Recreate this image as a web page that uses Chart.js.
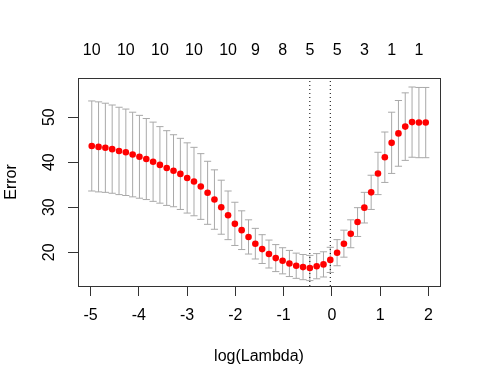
<!DOCTYPE html>
<html>
<head>
<meta charset="utf-8">
<script src="https://cdn.jsdelivr.net/npm/chart.js@4"></script>
<style>
  html, body { margin: 0; padding: 0; background: #fff; }
  canvas { display: block; }
</style>
</head>
<body>
<canvas id="cvPlot" width="480" height="384"></canvas>
<script>
// cross-validation curve (glmnet style)
const logLambda = [-4.975, -4.834, -4.693, -4.552, -4.410, -4.269, -4.128, -3.987, -3.845, -3.704,
  -3.563, -3.422, -3.281, -3.139, -2.998, -2.857, -2.716, -2.575, -2.433, -2.292,
  -2.151, -2.010, -1.869, -1.727, -1.586, -1.445, -1.304, -1.163, -1.021, -0.880,
  -0.739, -0.598, -0.457, -0.315, -0.174, -0.033, 0.108, 0.249, 0.391, 0.532,
  0.673, 0.814, 0.955, 1.097, 1.238, 1.379, 1.520, 1.661, 1.803, 1.944];
const cvMean = [43.6, 43.4, 43.2, 42.9, 42.5, 42.2, 41.7, 41.2, 40.7, 40.1,
  39.4, 38.7, 38.1, 37.4, 36.5, 35.7, 34.6, 33.2, 31.7, 30.0,
  28.2, 26.3, 24.9, 23.4, 21.9, 20.7, 19.6, 18.7, 18.1, 17.5,
  17.0, 16.7, 16.5, 16.9, 17.3, 18.3, 19.9, 21.9, 24.1, 26.7,
  29.9, 33.3, 37.5, 41.1, 44.3, 46.4, 47.9, 48.9, 48.8, 48.8];
const cvSd = [10.0, 10.0, 9.9, 9.8, 9.7, 9.6, 9.4, 9.2, 9.0, 8.8,
  8.5, 8.3, 8.0, 7.9, 7.8, 7.6, 7.3, 7.0, 6.6, 6.0,
  5.4, 4.8, 4.3, 3.8, 3.4, 3.2, 3.1, 3.0, 2.9, 2.9,
  2.8, 2.8, 2.8, 2.8, 2.8, 2.8, 2.9, 3.0, 3.1, 3.2,
  3.4, 3.8, 4.7, 5.6, 6.8, 7.3, 7.5, 7.8, 7.8, 7.8];

// number of nonzero coefs shown on top (R drops overlapping labels)
const nzAt = [0, 5, 10, 15, 20, 24, 28, 32, 36, 40, 44, 48];
const nzCount = [10, 10, 10, 10, 10, 9, 8, 5, 5, 3, 1, 1];

const xTicks = [-5, -4, -3, -2, -1, 0, 1, 2];
const yTicks = [20, 30, 40, 50];
const xMin = -5.26, xMax = 2.24;
const yMin = 12.5, yMax = 58.7;

const idxMin = 32;   // lambda.min
const idx1se = 35;   // lambda.1se

const upper = cvMean.map((m, i) => m + cvSd[i]);
const lower = cvMean.map((m, i) => m - cvSd[i]);

const stems = logLambda.flatMap((x, i) => [{x: x, y: lower[i]}, {x: x, y: upper[i]}, {x: x, y: null}]);
const caps = logLambda.flatMap((x, i) => [{x: x, y: lower[i]}, {x: x, y: upper[i]}]);
const means = logLambda.map((x, i) => ({x: x, y: cvMean[i]}));

const font = { family: '"Liberation Sans", Arial, sans-serif', size: 16 };
const axisColor = '#333';

new Chart(document.getElementById('cvPlot'), {
  type: 'scatter',
  data: {
    datasets: [
      {
        data: means, order: 0,
        pointStyle: 'circle', pointRadius: 3.3, pointHoverRadius: 3.3,
        backgroundColor: '#ff0000', borderWidth: 0
      },
      {
        data: [{x: logLambda[idxMin], y: yMin}, {x: logLambda[idxMin], y: yMax}], order: 1,
        showLine: true, pointRadius: 0, borderColor: '#000', borderWidth: 1, borderDash: [1, 3]
      },
      {
        data: [{x: logLambda[idx1se], y: yMin}, {x: logLambda[idx1se], y: yMax}], order: 1,
        showLine: true, pointRadius: 0, borderColor: '#000', borderWidth: 1, borderDash: [1, 3]
      },
      {
        data: caps, order: 2,
        pointStyle: 'line', pointRadius: 3.6, pointHoverRadius: 3.6,
        borderColor: '#a9a9a9', pointBorderColor: '#a9a9a9', pointBorderWidth: 1
      },
      {
        data: stems, order: 3,
        showLine: true, spanGaps: false, pointRadius: 0,
        borderColor: '#a9a9a9', borderWidth: 1
      }
    ]
  },
  options: {
    responsive: false,
    animation: false,
    devicePixelRatio: 1,
    layout: { padding: 0 },
    plugins: { legend: { display: false }, tooltip: { enabled: false } },
    scales: {
      x: {
        type: 'linear', position: 'bottom', min: xMin, max: xMax,
        afterBuildTicks: s => { s.ticks = xTicks.map(v => ({value: v})); },
        afterFit: s => { s.height = 98; },
        ticks: { font: font, color: '#000', padding: 10, maxRotation: 0, autoSkip: false, callback: v => String(v) },
        grid: { drawOnChartArea: false, tickLength: 10, color: axisColor },
        border: { color: axisColor },
        title: { display: true, text: 'log(Lambda)', font: font, color: '#000', padding: { top: 0, bottom: 18 } }
      },
      xTop: {
        type: 'linear', position: 'top', min: xMin, max: xMax,
        afterBuildTicks: s => { s.ticks = nzAt.map(i => ({value: logLambda[i]})); },
        afterFit: s => { s.height = 78; },
        ticks: { font: font, color: '#000', padding: 18, maxRotation: 0, autoSkip: false,
                 callback: (v, i) => String(nzCount[i]) },
        grid: { drawOnChartArea: false, drawTicks: false, color: axisColor },
        border: { color: axisColor }
      },
      y: {
        type: 'linear', position: 'left', min: yMin, max: yMax,
        afterBuildTicks: s => { s.ticks = yTicks.map(v => ({value: v})); },
        afterFit: s => { s.width = 78; },
        ticks: { font: font, color: '#000', padding: 10, minRotation: 90, maxRotation: 90,
                 crossAlign: 'center', autoSkip: false, callback: v => String(v) },
        grid: { drawOnChartArea: false, tickLength: 10, color: axisColor },
        border: { color: axisColor },
        title: { display: true, text: 'Error', font: font, color: '#000', padding: { top: 2, bottom: 0 } }
      },
      yRight: {
        type: 'linear', position: 'right', min: yMin, max: yMax,
        afterFit: s => { s.width = 40; },
        ticks: { display: false },
        grid: { drawOnChartArea: false, drawTicks: false, color: axisColor },
        border: { color: axisColor }
      }
    }
  }
});
</script>
</body>
</html>
